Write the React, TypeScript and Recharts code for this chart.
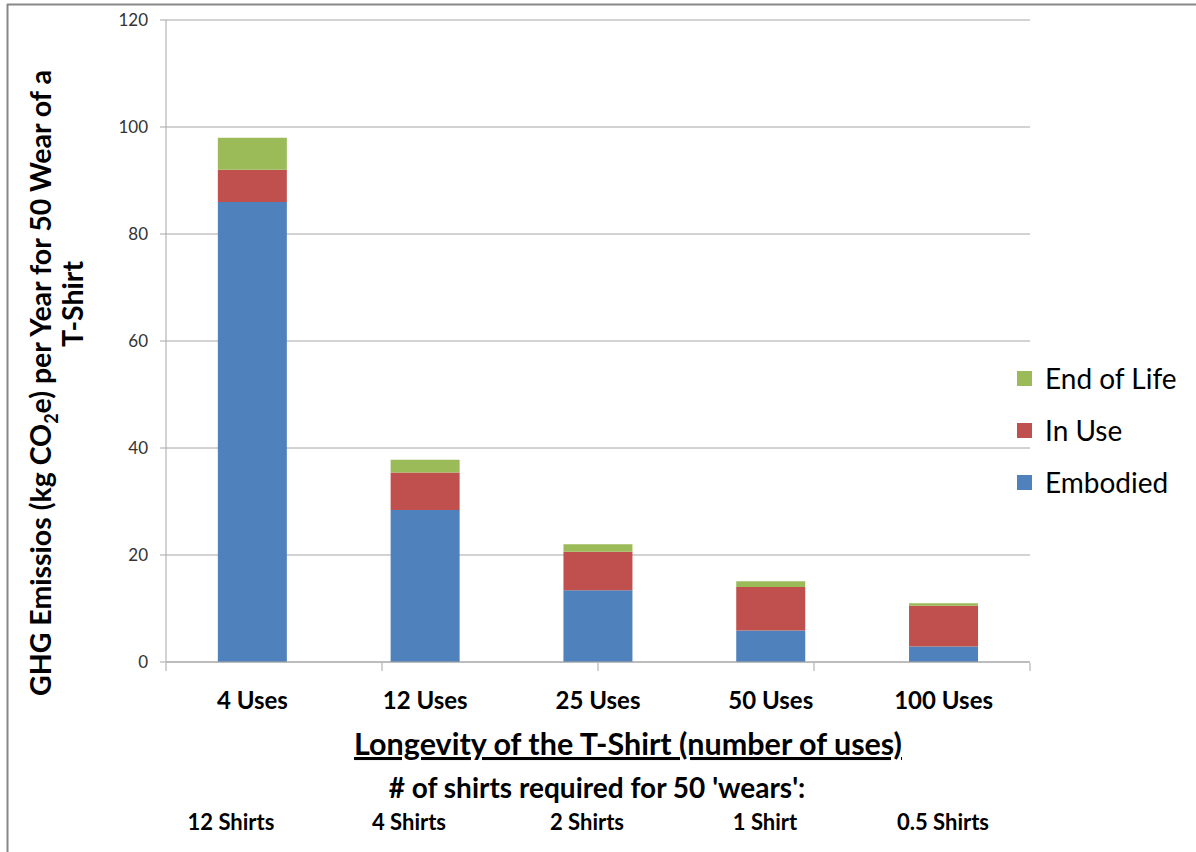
import React from "react";
import { BarChart, Bar, XAxis, YAxis, CartesianGrid, Legend } from "recharts";

// Longevity scenarios and the GHG split for each (kg CO2e)
const uses = ["4 Uses", "12 Uses", "25 Uses", "50 Uses", "100 Uses"];
const embodied = [86, 28.4, 13.4, 5.9, 2.9];
const inUse = [6, 7, 7.2, 8.1, 7.6];
const endOfLife = [6, 2.4, 1.4, 1.1, 0.5];
const shirtsNeeded = ["12 Shirts", "4 Shirts", "2 Shirts", "1 Shirt", "0.5 Shirts"];
const yTicks = [0, 20, 40, 60, 80, 100, 120];
const categoryEdges = [0, 1, 2, 3, 4, 5];

const series = [
  { key: "embodied", name: "Embodied", color: "#4F81BD" },
  { key: "inUse", name: "In Use", color: "#C0504D" },
  { key: "endOfLife", name: "End of Life", color: "#9BBB59" },
];

const rows = uses.map((name, i) => ({
  name,
  embodied: embodied[i],
  inUse: inUse[i],
  endOfLife: endOfLife[i],
}));

const FONT = "Lato, 'Open Sans', sans-serif";
const GRID = "#A6A6A6";

function UsesTick({ x, y, payload }: any) {
  return (
    <text
      x={x}
      y={y}
      dy={45}
      textAnchor="middle"
      fontFamily={FONT}
      fontWeight={700}
      fontSize={24}
      fill="#000"
    >
      {payload.value}
    </text>
  );
}

function LegendBox() {
  return (
    <div style={{ fontFamily: FONT, fontSize: 28, color: "#000" }}>
      {[...series].reverse().map((s) => (
        <div
          key={s.key}
          style={{ display: "flex", alignItems: "center", height: 52 }}
        >
          <span
            style={{
              width: 15,
              height: 15,
              background: s.color,
              marginRight: 13,
              display: "inline-block",
            }}
          />
          {s.name}
        </div>
      ))}
    </div>
  );
}

export default function App() {
  return (
    <div
      style={{
        position: "absolute",
        left: 0,
        top: 0,
        width: 1196,
        height: 852,
        background: "#fff",
      }}
    >
      <BarChart
        width={1196}
        height={852}
        data={rows}
        margin={{ top: 20, right: 166, bottom: 188, left: 0 }}
        barCategoryGap="30%"
      >
        <CartesianGrid stroke={GRID} vertical={false} />
        <XAxis
          dataKey="name"
          height={1}
          tickSize={0}
          tickLine={false}
          axisLine={{ stroke: GRID }}
          tick={<UsesTick />}
          interval={0}
        />
        {/* tick marks between categories */}
        <XAxis
          xAxisId="edges"
          type="number"
          domain={[0, 5]}
          ticks={categoryEdges}
          allowDataOverflow
          height={1}
          tick={() => <g />}
          tickSize={8}
          tickLine={{ stroke: GRID }}
          axisLine={false}
          interval={0}
        />
        <YAxis
          width={166}
          domain={[0, 120]}
          ticks={yTicks}
          tickSize={6}
          tickMargin={12}
          axisLine={{ stroke: GRID }}
          tickLine={{ stroke: GRID }}
          tick={{ fontSize: 17, fill: "#333", fontFamily: FONT }}
        />
        <Legend
          layout="horizontal"
          verticalAlign="middle"
          align="center"
          content={<LegendBox />}
          wrapperStyle={{ left: 1017, top: 352, width: 180 }}
        />
        {series.map((s) => (
          <Bar
            key={s.key}
            dataKey={s.key}
            name={s.name}
            stackId="ghg"
            fill={s.color}
            isAnimationActive={false}
          />
        ))}
      </BarChart>

      <svg
        width={1196}
        height={852}
        style={{ position: "absolute", left: 0, top: 0, pointerEvents: "none" }}
      >
        {/* frame */}
        <line x1={7} y1={4.5} x2={1196} y2={4.5} stroke="#888" strokeWidth={2} />
        <line x1={7.5} y1={4} x2={7.5} y2={852} stroke="#888" strokeWidth={2} />

        {/* y-axis title, two lines */}
        <g fontFamily={FONT} fontWeight={700} fontSize={28.5} fill="#000">
          <text transform="translate(51,383) rotate(-90)" textAnchor="middle">
            GHG Emissios (kg CO
            <tspan fontSize={18} dy={7}>
              2
            </tspan>
            <tspan dy={-7}>e) per Year for 50 Wear of a</tspan>
          </text>
          <text transform="translate(83,304) rotate(-90)" textAnchor="middle">
            T-Shirt
          </text>
        </g>

        {/* x-axis title and shirt counts */}
        <text
          x={628}
          y={755}
          textAnchor="middle"
          fontFamily={FONT}
          fontWeight={700}
          fontSize={30.5}
          textDecoration="underline"
          fill="#000"
        >
          Longevity of the T-Shirt (number of uses)
        </text>
        <text
          x={597}
          y={798}
          textAnchor="middle"
          fontFamily={FONT}
          fontWeight={700}
          fontSize={28}
          fill="#000"
        >
          # of shirts required for 50 'wears':
        </text>
        {shirtsNeeded.map((t, i) => (
          <text
            key={t}
            x={231 + i * 178}
            y={830}
            textAnchor="middle"
            fontFamily={FONT}
            fontWeight={700}
            fontSize={22}
            fill="#000"
          >
            {t}
          </text>
        ))}
      </svg>
    </div>
  );
}
